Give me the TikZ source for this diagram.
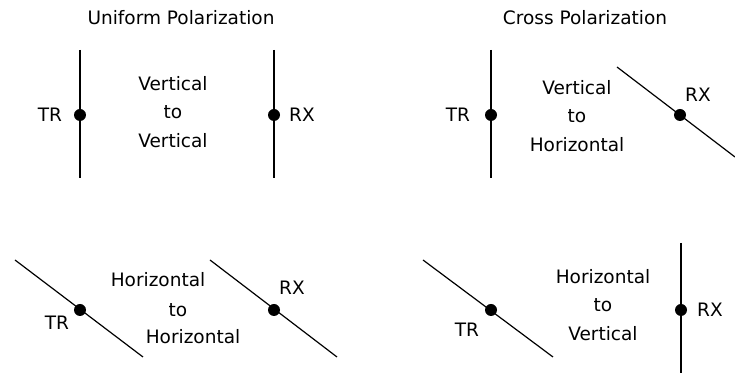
\documentclass[tikz,border=0pt]{standalone}
\usepackage{fontspec}
\setmainfont{DejaVu Sans}
\begin{document}
\begin{tikzpicture}[x=0.5pt,y=-0.5pt,
        dot/.style={circle,fill=black,inner sep=0pt,minimum size=6pt},
        feed/.style={black,line width=1pt},
        slant/.style={black,line width=0.6pt},
        lbl/.style={font=\fontsize{9.25}{14.2}\selectfont,inner sep=0pt},
        pairtext/.style={lbl,align=center}]
        \useasboundingbox (0,0) rectangle (735,373);
        % titles
        \node[lbl] (uniform) at (181,18) {Uniform Polarization};
        \node[lbl] (cross) at (585,18) {Cross Polarization};
        % line ends
        \coordinate (a1) at (80,50);   \coordinate (b1) at (80,178);
        \coordinate (a2) at (274,50);  \coordinate (b2) at (274,178);
        \coordinate (a3) at (491,50);  \coordinate (b3) at (491,178);
        \coordinate (a4) at (617,67);  \coordinate (b4) at (735,157);
        \coordinate (a5) at (15,260);  \coordinate (b5) at (143,357);
        \coordinate (a6) at (210,260); \coordinate (b6) at (337,357);
        \coordinate (a7) at (423,260); \coordinate (b7) at (553,357);
        \coordinate (a8) at (681,243); \coordinate (b8) at (681,373);
        \draw[feed] (a1) -- (b1);
        \draw[feed] (a2) -- (b2);
        \draw[feed] (a3) -- (b3);
        \draw[slant] (a4) -- (b4);
        \draw[slant] (a5) -- (b5);
        \draw[slant] (a6) -- (b6);
        \draw[slant] (a7) -- (b7);
        \draw[feed] (a8) -- (b8);
        % dots on the antennas
        \foreach \n/\x/\y in {tr1/80/115, rx1/274/115, tr2/491/115, rx2/680/115,
                tr3/80/310, rx3/274/310, tr4/491/310, rx4/681/310} {
                \node[dot] (\n) at (\x,\y) {};
            }
        % labels
        \node[lbl] (trl1) at (50,115) {TR};
        \node[lbl] (rxl1) at (302,115) {RX};
        \node[lbl] (trl2) at (458,115) {TR};
        \node[lbl] (rxl2) at (698,95) {RX};
        \node[lbl] (trl3) at (57,323) {TR};
        \node[lbl] (rxl3) at (292,288) {RX};
        \node[lbl] (trl4) at (467,330) {TR};
        \node[lbl] (rxl4) at (710,310) {RX};
        \node[pairtext] (vv) at (173,112) {Vertical\\to\\Vertical};
        \node[pairtext] (vh) at (577,116) {Vertical\\to\\Horizontal};
        \node[lbl] (hh1) at (158,280) {Horizontal};
        \node[lbl] (hh2) at (178,310) {to};
        \node[lbl] (hh3) at (193,337) {Horizontal};
        \node[pairtext] (hv) at (603,305) {Horizontal\\to\\Vertical};
    \end{tikzpicture}
\end{document}
